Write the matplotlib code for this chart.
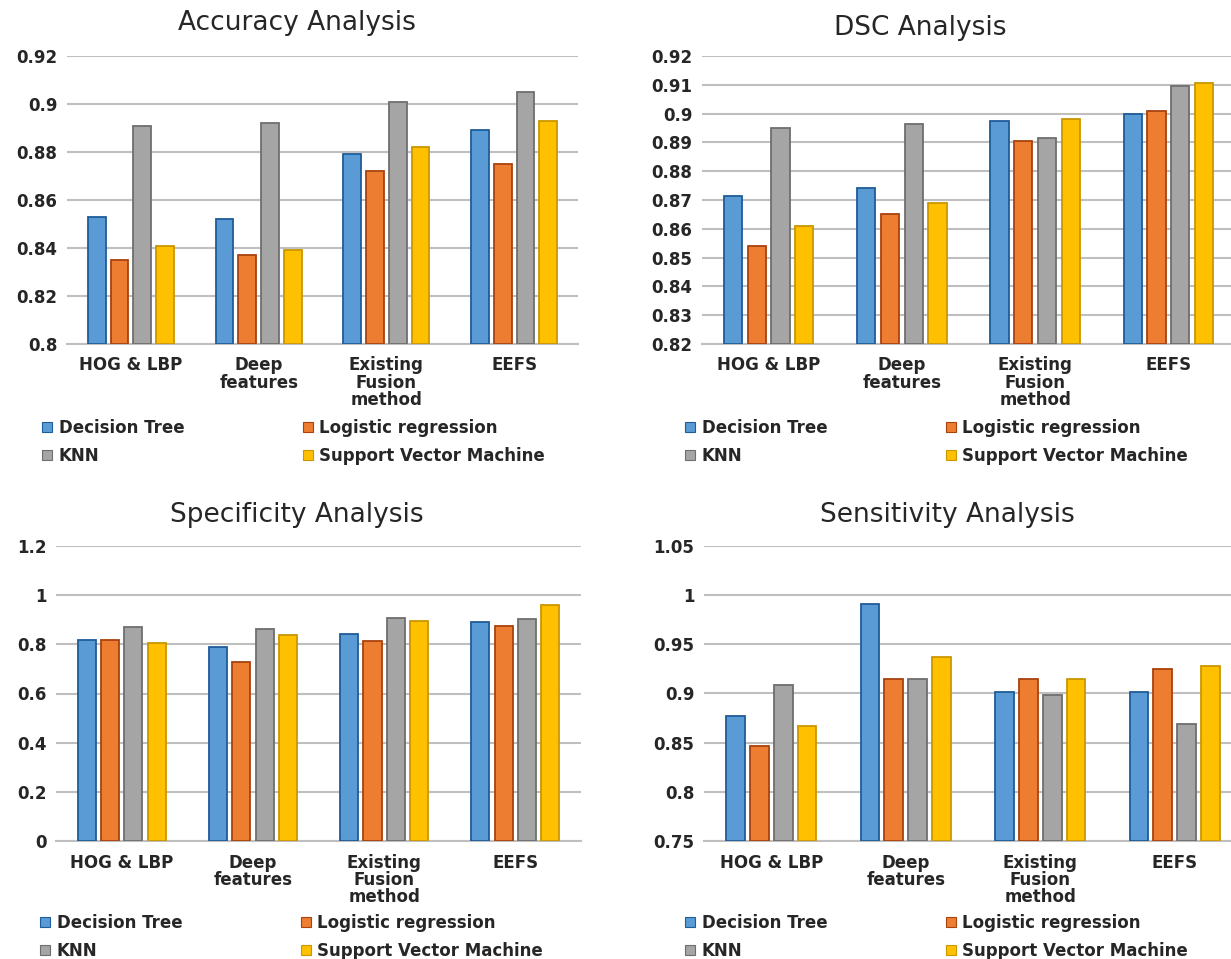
import matplotlib
matplotlib.use("Agg")
import matplotlib.pyplot as plt
import numpy as np
from matplotlib.patches import Patch

plt.rcParams["font.family"] = ["DejaVu Sans"]

categories = ["HOG & LBP", "Deep\nfeatures", "Existing\nFusion\nmethod", "EEFS"]
models = ["Decision Tree", "Logistic regression", "KNN", "Support Vector Machine"]

accuracy = {
    "Decision Tree": [0.853, 0.852, 0.879, 0.889],
    "Logistic regression": [0.835, 0.837, 0.872, 0.875],
    "KNN": [0.891, 0.892, 0.901, 0.905],
    "Support Vector Machine": [0.841, 0.839, 0.882, 0.893],
}
dsc = {
    "Decision Tree": [0.8715, 0.874, 0.8975, 0.900],
    "Logistic regression": [0.854, 0.865, 0.8905, 0.901],
    "KNN": [0.895, 0.8965, 0.8915, 0.9095],
    "Support Vector Machine": [0.861, 0.869, 0.898, 0.9105],
}
specificity = {
    "Decision Tree": [0.819, 0.788, 0.843, 0.889],
    "Logistic regression": [0.819, 0.729, 0.812, 0.876],
    "KNN": [0.869, 0.862, 0.907, 0.902],
    "Support Vector Machine": [0.805, 0.838, 0.896, 0.959],
}
sensitivity = {
    "Decision Tree": [0.877, 0.991, 0.902, 0.902],
    "Logistic regression": [0.847, 0.915, 0.915, 0.925],
    "KNN": [0.909, 0.915, 0.898, 0.869],
    "Support Vector Machine": [0.867, 0.937, 0.915, 0.928],
}

fill_colors = ["#5B9BD5", "#ED7D31", "#A5A5A5", "#FFC000"]
edge_colors = ["#1F5C99", "#A8420F", "#6E6E6E", "#C99700"]
text_color = "#262626"
grid_color = "#BFBFBF"

W, H = 1231, 959
fig = plt.figure(figsize=(W / 100, H / 100), dpi=100)


def px_axes(left, right, top, bottom):
    return fig.add_axes([left / W, 1 - bottom / H, (right - left) / W, (bottom - top) / H])


def draw_panel(ax, data, ylim, yticks, ylabels, title, title_xy, legend_xy):
    x = np.arange(len(categories))
    width = 0.138
    step = 0.178
    for i, m in enumerate(models):
        off = (i - 1.5) * step
        ax.bar(x + off, np.array(data[m]) - ylim[0], width, bottom=ylim[0],
               color=fill_colors[i], edgecolor=edge_colors[i], linewidth=1.3, zorder=3)
    ax.set_xlim(-0.5, len(categories) - 0.5)
    ax.set_ylim(*ylim)
    ax.set_yticks(yticks)
    ax.set_yticklabels(ylabels, fontsize=12, fontweight="bold", color=text_color)
    ax.set_xticks(x)
    ax.set_xticklabels(categories, fontsize=12, fontweight="bold", color=text_color,
                       linespacing=0.95)
    ax.tick_params(length=0, pad=7)
    ax.tick_params(axis="x", pad=9)
    ax.grid(axis="y", color=grid_color, linewidth=1.5, zorder=0)
    for s in ["top", "right", "left"]:
        ax.spines[s].set_visible(False)
    ax.spines["bottom"].set_color(grid_color)
    ax.spines["bottom"].set_linewidth(1.5)
    fig.text(title_xy[0] / W, 1 - title_xy[1] / H, title, fontsize=19,
             color=text_color, ha="center", va="center")
    handles = [Patch(facecolor=fill_colors[i], edgecolor=edge_colors[i], linewidth=0.8)
               for i in range(4)]
    order = [0, 2, 1, 3]
    ax.legend([handles[i] for i in order], [models[i] for i in order], ncol=2,
              loc="upper left", bbox_to_anchor=(legend_xy[0] / W, 1 - legend_xy[1] / H),
              bbox_transform=fig.transFigure, frameon=False,
              prop={"size": 12, "weight": "bold"}, labelcolor=text_color,
              handlelength=0.6, handleheight=0.6, handletextpad=0.4,
              columnspacing=7.1, labelspacing=0.6, borderpad=0, borderaxespad=0)


ax1 = px_axes(67, 578, 56, 344)
draw_panel(ax1, accuracy, (0.8, 0.92), [0.8, 0.82, 0.84, 0.86, 0.88, 0.9, 0.92],
           ["0.8", "0.82", "0.84", "0.86", "0.88", "0.9", "0.92"],
           "Accuracy Analysis", (297, 23), (42, 419))

ax2 = px_axes(702, 1235, 56, 344)
dsc_ticks = [0.82, 0.83, 0.84, 0.85, 0.86, 0.87, 0.88, 0.89, 0.9, 0.91, 0.92]
draw_panel(ax2, dsc, (0.82, 0.92), dsc_ticks,
           ["0.82", "0.83", "0.84", "0.85", "0.86", "0.87", "0.88", "0.89", "0.9", "0.91", "0.92"],
           "DSC Analysis", (920, 28), (685, 419))

ax3 = px_axes(56, 581, 546, 841)
draw_panel(ax3, specificity, (0, 1.2), [0, 0.2, 0.4, 0.6, 0.8, 1.0, 1.2],
           ["0", "0.2", "0.4", "0.6", "0.8", "1", "1.2"],
           "Specificity Analysis", (297, 515), (40, 914))

ax4 = px_axes(704, 1242, 546, 841)
draw_panel(ax4, sensitivity, (0.75, 1.05), [0.75, 0.8, 0.85, 0.9, 0.95, 1.0, 1.05],
           ["0.75", "0.8", "0.85", "0.9", "0.95", "1", "1.05"],
           "Sensitivity Analysis", (947, 515), (685, 914))

fig.savefig("out.png", dpi=100, facecolor="white")
